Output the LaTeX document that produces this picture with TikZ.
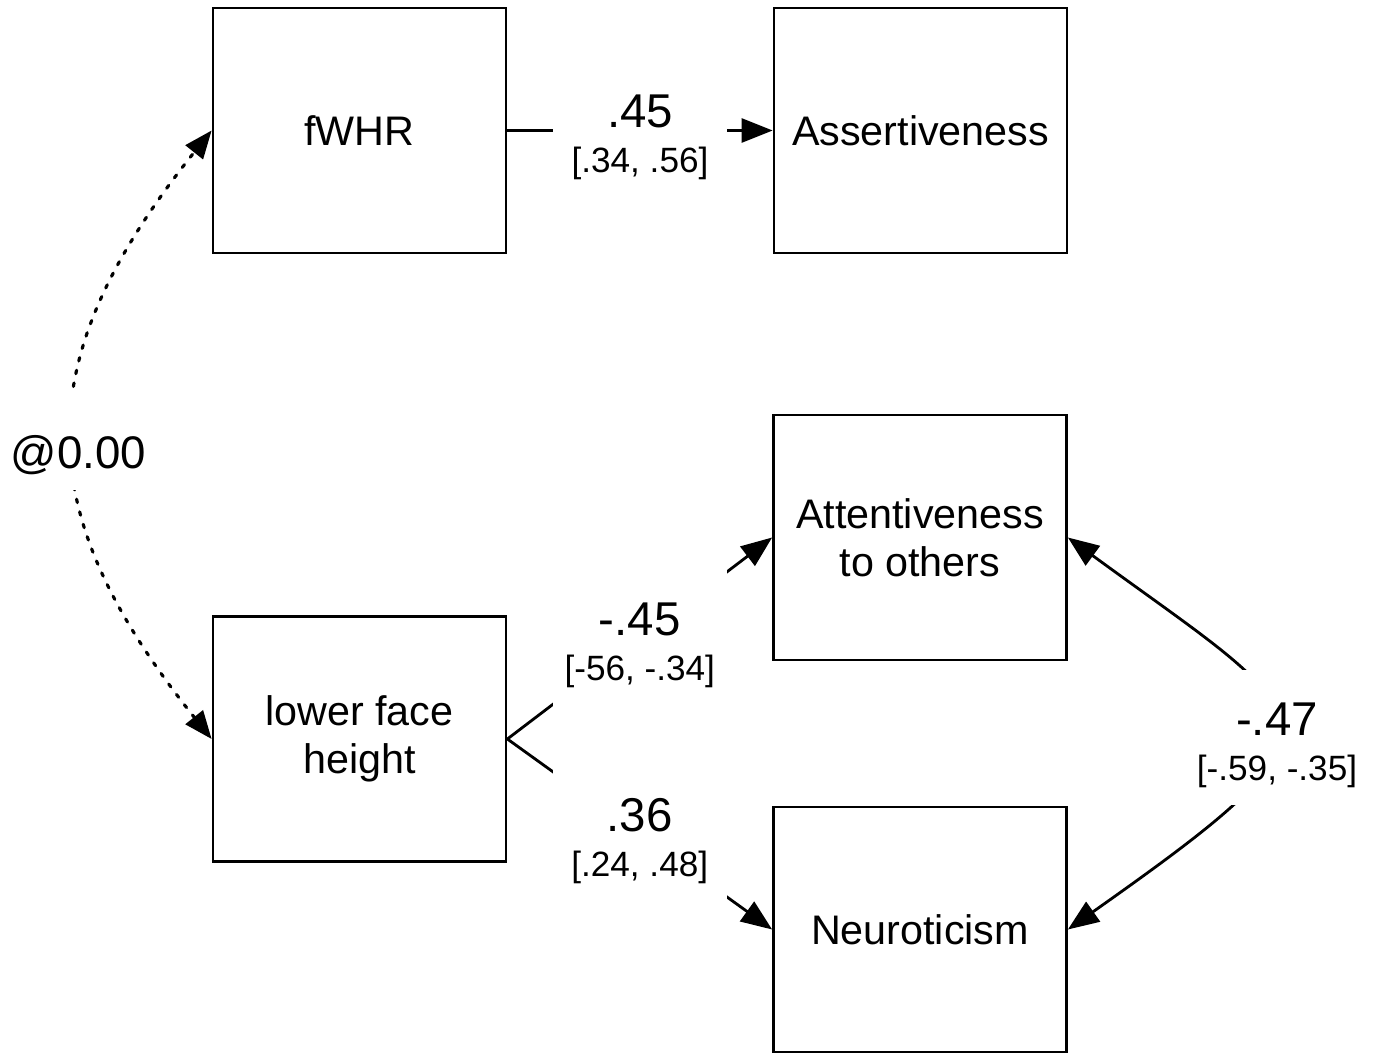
\documentclass[tikz,border=0pt]{standalone}
\usepackage{fontspec}
\setmainfont{Liberation Sans}
\usetikzlibrary{arrows.meta}

\begin{document}
\begin{tikzpicture}[x=0.02cm, y=-0.02cm,
  box/.style={draw, line width=1.6pt, minimum width=5.86cm, minimum height=4.9cm,
    align=center, font=\fontsize{23.5}{27.3}\selectfont},
  effect/.style={line width=1.6pt, -{Triangle[length=0.62cm,width=0.48cm]}},
  cov/.style={line width=1.6pt, {Triangle[length=0.62cm,width=0.48cm]}-{Triangle[length=0.62cm,width=0.48cm]}},
  corr/.style={line width=1.8pt, line cap=round, dash pattern=on 2pt off 5.4pt,
    {Triangle[length=0.56cm,width=0.44cm]}-{Triangle[length=0.56cm,width=0.44cm]}},
  coef/.style={fill=white, align=center, inner sep=0pt, minimum width=3.48cm,
    minimum height=3cm, font=\fontsize{20}{25.5}\selectfont}]
  \useasboundingbox (0,0) rectangle (1373,1053);

  \node[box] (fwhr) at (359.5,130.5) {fWHR};
  \node[box] (assert) at (920.5,130.5) {Assertiveness};
  \node[box] (attn) at (920,537.5) {Attentiveness\\to others};
  \node[box] (lower) at (359.5,739) {lower face\\height};
  \node[box] (neuro) at (920,929.5) {Neuroticism};

  \draw[effect] (fwhr) -- node[coef, yshift=-0.14cm] {{\fontsize{27}{25.5}\selectfont .45}\\{[.34, .56]}} (assert);
  \draw[effect] (lower.east) -- node[coef, yshift=-0.14cm] {{\fontsize{27}{25.5}\selectfont -.45}\\{[-56, -.34]}} (attn.west);
  \draw[effect] (lower.east) -- node[coef, yshift=-0.14cm] {{\fontsize{27}{25.5}\selectfont .36}\\{[.24, .48]}} (neuro.west);
  \draw[cov] (attn.east) .. controls +(256,187) and +(295,-208) .. node[coef, pos=.5, minimum height=2.7cm, xshift=0.05cm, yshift=-0.23cm] {{\rule{0pt}{28pt}\fontsize{27}{25.5}\selectfont -.47}\\{[-.59, -.35]}} (neuro.east);
  \draw[corr] (lower.west) .. controls +(-184,-230) and +(-184,230) .. node[pos=.5, fill=white, inner sep=0pt, minimum width=3cm, minimum height=1.95cm, text height=35pt, text depth=5pt, xshift=0.1cm, yshift=-0.14cm, font=\fontsize{26}{26}\selectfont] {@0.00} (fwhr.west);
\end{tikzpicture}
\end{document}
